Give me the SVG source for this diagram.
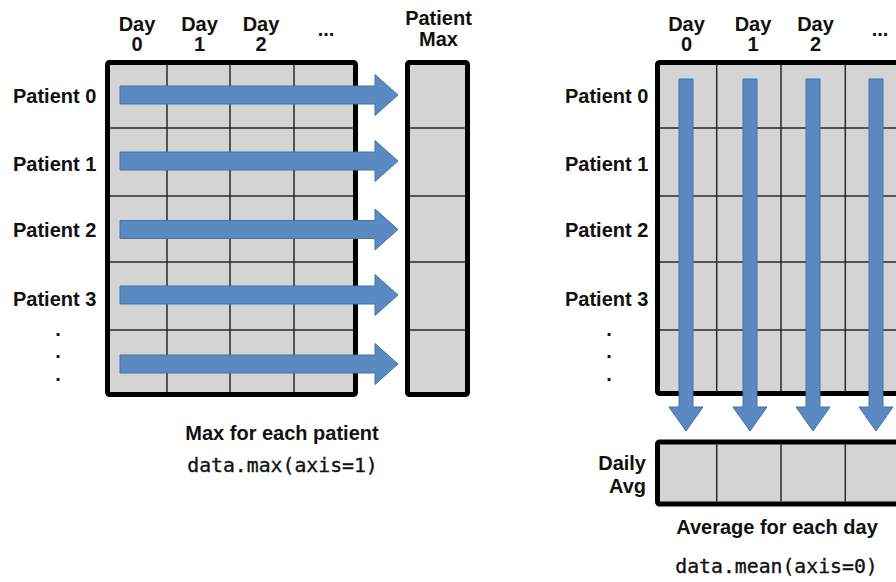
<svg xmlns="http://www.w3.org/2000/svg" width="896" height="582" viewBox="0 0 896 582">
  <style>
    .lbl { font-family: "Liberation Sans", Arial, sans-serif; font-weight: bold; font-size: 20px; fill: #111; }
    .cap { font-family: "Liberation Sans", Arial, sans-serif; font-weight: bold; font-size: 20px; fill: #111; }
    .code { font-family: "DejaVu Sans Mono", "Liberation Mono", monospace; font-size: 19.8px; fill: #111; stroke: #111; stroke-width: 0.35; }
    .frame { fill: #d4d4d4; stroke: #000; stroke-width: 5; }
    .grid { stroke: #2a2a2a; stroke-width: 1.5; fill: none; }
    .arrow { fill: #5b89c1; stroke: #4472a8; stroke-width: 1; }
  </style>
  <rect width="896" height="582" fill="#ffffff"/>

  <!-- Left panel: max along axis 1 -->
  <g id="left-headers">
    <text class="lbl" text-anchor="middle" x="137" y="31">Day</text>
    <text class="lbl" text-anchor="middle" x="137" y="51">0</text>
    <text class="lbl" text-anchor="middle" x="199.5" y="31">Day</text>
    <text class="lbl" text-anchor="middle" x="199.5" y="51">1</text>
    <text class="lbl" text-anchor="middle" x="261" y="31">Day</text>
    <text class="lbl" text-anchor="middle" x="261" y="51">2</text>
    <text class="lbl" text-anchor="middle" x="326" y="36">...</text>
    <text class="lbl" text-anchor="middle" x="438.5" y="25">Patient</text>
    <text class="lbl" text-anchor="middle" x="438.5" y="46">Max</text>
  </g>
  <g id="left-rows">
    <text class="lbl" x="13" y="103">Patient 0</text>
    <text class="lbl" x="13" y="171">Patient 1</text>
    <text class="lbl" x="13" y="237">Patient 2</text>
    <text class="lbl" x="13" y="306">Patient 3</text>
    <text class="lbl" text-anchor="middle" x="58" y="336">.</text>
    <text class="lbl" text-anchor="middle" x="58" y="358">.</text>
    <text class="lbl" text-anchor="middle" x="58" y="381">.</text>
  </g>
  <g id="data-grid-left">
    <rect class="frame" x="107.5" y="62.5" width="248" height="332" rx="2"/>
    <path class="grid" d="M167 65V392M230 65V392M294 65V392M110 128H353M110 196H353M110 262H353M110 330H353"/>
  </g>
  <g id="patient-max">
    <rect class="frame" x="407.5" y="62.5" width="60" height="332" rx="2"/>
    <path class="grid" d="M410 128H465M410 196H465M410 262H465M410 330H465"/>
  </g>
  <g id="row-arrows">
    <path class="arrow" d="M120 86H375V74.5L398 95L375 115.5V104H120Z"/>
    <path class="arrow" d="M120 152H375V140.5L398 161L375 181.5V170H120Z"/>
    <path class="arrow" d="M120 220.5H375V209L398 229.5L375 250V238.5H120Z"/>
    <path class="arrow" d="M120 286H375V274.5L398 295L375 315.5V304H120Z"/>
    <path class="arrow" d="M120 355H375V343.5L398 364L375 384.5V373H120Z"/>
  </g>
  <g id="left-caption">
    <text class="cap" text-anchor="middle" x="282" y="440">Max for each patient</text>
    <text class="code" text-anchor="middle" x="282.5" y="472">data.max(axis=1)</text>
  </g>

  <!-- Right panel: mean along axis 0 -->
  <g id="right-headers">
    <text class="lbl" text-anchor="middle" x="686.5" y="31">Day</text>
    <text class="lbl" text-anchor="middle" x="686.5" y="51">0</text>
    <text class="lbl" text-anchor="middle" x="753" y="31">Day</text>
    <text class="lbl" text-anchor="middle" x="753" y="51">1</text>
    <text class="lbl" text-anchor="middle" x="815.5" y="31">Day</text>
    <text class="lbl" text-anchor="middle" x="815.5" y="51">2</text>
    <text class="lbl" text-anchor="middle" x="880" y="36">...</text>
  </g>
  <g id="right-rows">
    <text class="lbl" x="565" y="103">Patient 0</text>
    <text class="lbl" x="565" y="171">Patient 1</text>
    <text class="lbl" x="565" y="237">Patient 2</text>
    <text class="lbl" x="565" y="306">Patient 3</text>
    <text class="lbl" text-anchor="middle" x="609" y="336">.</text>
    <text class="lbl" text-anchor="middle" x="609" y="358">.</text>
    <text class="lbl" text-anchor="middle" x="609" y="381">.</text>
    <text class="lbl" text-anchor="end" x="646" y="470">Daily</text>
    <text class="lbl" text-anchor="end" x="646" y="493">Avg</text>
  </g>
  <g id="data-grid-right">
    <rect class="frame" x="657.5" y="62.5" width="300" height="331" rx="2"/>
    <path class="grid" d="M716.7 65V391M781 65V391M845.3 65V391M660 128H896M660 196H896M660 262H896M660 330H896"/>
  </g>
  <g id="daily-avg">
    <rect class="frame" x="657.5" y="442" width="300" height="62" rx="2"/>
    <path class="grid" d="M716.7 444.5V501.5M781 444.5V501.5M845.3 444.5V501.5"/>
  </g>
  <g id="column-arrows">
    <path class="arrow" d="M679 79H693V407H703L686 431L669 407H679Z"/>
    <path class="arrow" d="M743 79H757V407H767L750 431L733 407H743Z"/>
    <path class="arrow" d="M806 79H820V407H830L813 431L796 407H806Z"/>
    <path class="arrow" d="M869 79H883V407H893L876 431L859 407H869Z"/>
  </g>
  <g id="right-caption">
    <text class="cap" text-anchor="middle" x="777" y="534">Average for each day</text>
    <text class="code" text-anchor="middle" x="776.5" y="573">data.mean(axis=0)</text>
  </g>
</svg>
